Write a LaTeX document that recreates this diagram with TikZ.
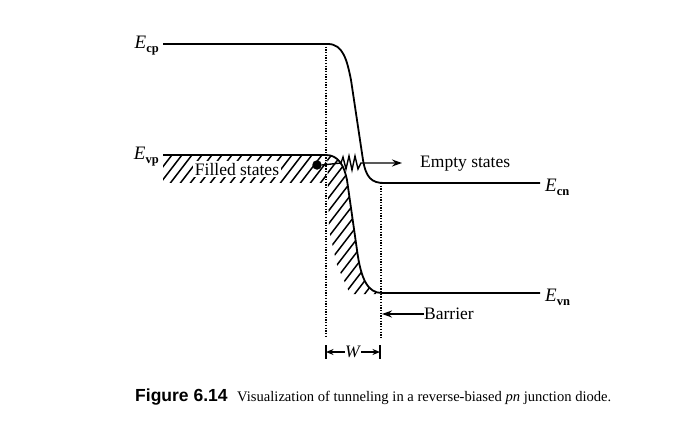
\documentclass[tikz,border=0pt]{standalone}
\usepackage{fontspec}
\setmainfont{Liberation Serif}
\newfontfamily\capsans{Liberation Sans}
\usetikzlibrary{arrows.meta}
\begin{document}
\begin{tikzpicture}[x=1pt,y=-1pt,
  band/.style={line width=1.8pt},
  dotln/.style={line width=2pt, dash pattern=on 1.3pt off 1.4pt},
  hatch/.style={line width=1.5pt},
  lbl/.style={font=\fontsize{17.5}{20}\selectfont, inner sep=0pt},
  elbl/.style={font=\fontsize{19}{20}\selectfont, inner sep=0pt},
  arr/.style={line width=1.6pt, -{Stealth[length=10pt,width=7pt]}},
  sarr/.style={line width=1.4pt, -{Stealth[length=7.5pt,width=6pt]}}]
\useasboundingbox (0,0) rectangle (699,428);

% hatching: filled-states strip
\begin{scope}
  \clip (163,156) rectangle (326,182);
  \foreach \i in {145,155,...,360} \draw[hatch] (\i,190) -- ++(30,-39);
\end{scope}
% hatching below the valence band edge
\begin{scope}
  \clip (327,150) -- (329,230) -- (337,265) -- (350,294) -- (400,294) -- (400,150) -- cycle;
  \clip (300,150) -- (328,155) .. controls (338,155) and (344,165) .. (347,180) -- (357,250) .. controls (361,280) and (368,293) .. (382,293) -- (382,300) -- (300,300) -- cycle;
  \foreach \i in {200,210,...,400} \draw[hatch] (\i,300) -- ++(120,-156);
\end{scope}

% bands
\draw[band] (163,44) -- (328,44) .. controls (343,44) and (347,60) .. (351,80) -- (363,160) .. controls (366,178) and (372,183) .. (384,183) -- (540,183);
\draw[band] (163,155) -- (326,155) .. controls (338,155) and (344,165) .. (347,180) -- (357,250) .. controls (361,280) and (368,293) .. (382,293) -- (540,293);

% dotted depletion edges
\coordinate (dlt) at (326,44);
\coordinate (dlb) at (326,338);
\coordinate (drt) at (381,183);
\coordinate (drb) at (381,338);
\draw[dotln] (dlt) -- (dlb);
\draw[dotln] (drt) -- (drb);

% labels
\node[elbl, anchor=east] (ecp) at (159,46) {\textit{E}\raisebox{-4pt}{\fontsize{12.5}{12}\selectfont\bfseries cp}};
\node[elbl, anchor=east] (evp) at (159,157) {\textit{E}\raisebox{-4pt}{\fontsize{12.5}{12}\selectfont\bfseries vp}};
\node[elbl, anchor=west] (ecn) at (545,187) {\textit{E}\raisebox{-4pt}{\fontsize{12.5}{12}\selectfont\bfseries cn}};
\node[elbl, anchor=west] (evn) at (545,297) {\textit{E}\raisebox{-4pt}{\fontsize{12.5}{12}\selectfont\bfseries vn}};

\node[lbl, fill=white, inner sep=1.5pt, anchor=base] (filled) at (237,175) {Filled states};
\node[lbl, anchor=base west] (empty) at (420,167) {Empty states};

% electron and tunneling path
\node[circle, fill, inner sep=0pt, minimum size=9.5pt] (e) at (317,165) {};
\draw[line width=1.4pt, -{Stealth[length=10pt,width=7pt]}] (e.east) -- (341,163) -- (343,157) -- (346,169) -- (349,156) -- (352,170) -- (355,156) -- (358,169) -- (361,163) -- (402,163);

% barrier
\node[lbl, anchor=base west] (barrier) at (424,319) {Barrier};
\coordinate (barend) at (382,314);
\draw[arr] (barrier.west |- barend) -- (barend);

% W
\node[lbl, anchor=center] (w) at (353,352) {\textit{W}};
\coordinate (wl) at (326,352);
\coordinate (wr) at (380,352);
\draw[line width=1.4pt] (326,345) -- (326,359);
\draw[line width=1.4pt] (380,345) -- (380,359);
\draw[sarr] (w.west) -- (wl);
\draw[sarr] (w.east) -- (wr);

% caption
\node[anchor=base west, inner sep=0pt, font=\capsans\bfseries\fontsize{17.5}{19}\selectfont] (fig) at (135,401) {Figure 6.14};
\node[anchor=base west, inner sep=0pt, font=\fontsize{14.6}{17}\selectfont] (cap) at (237,401) {Visualization of tunneling in a reverse-biased \textit{pn} junction diode.};
\end{tikzpicture}
\end{document}
